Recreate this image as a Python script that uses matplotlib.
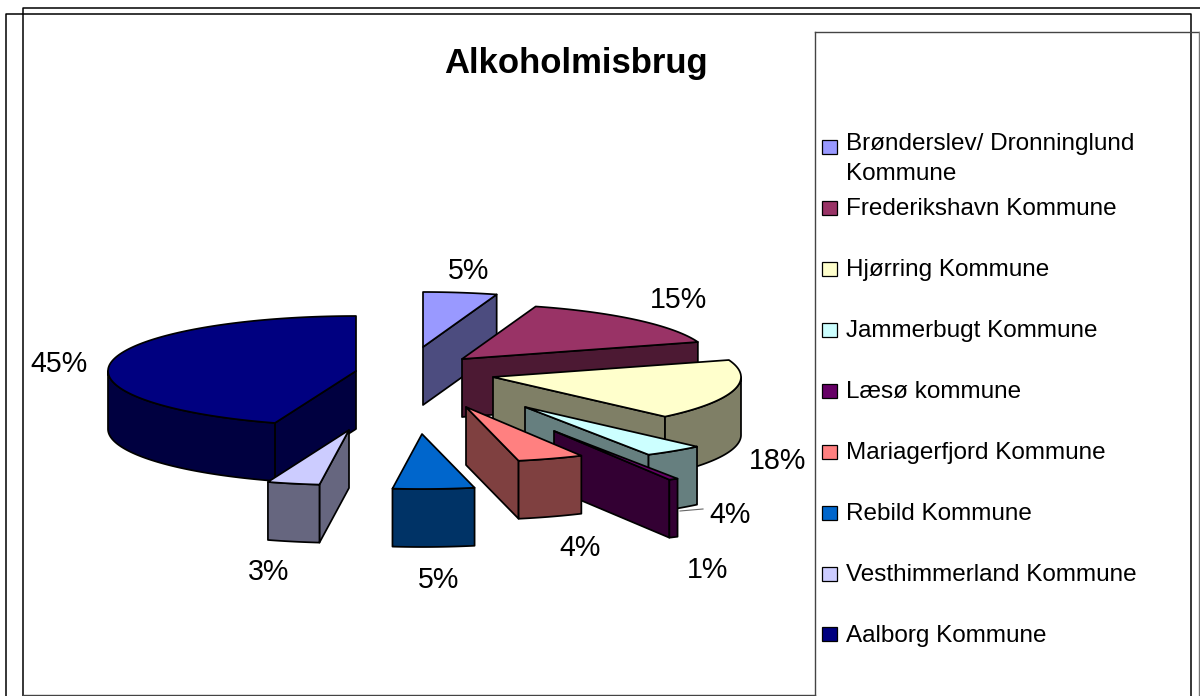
import matplotlib

matplotlib.use('Agg')
import numpy as np
import matplotlib.pyplot as plt
from matplotlib.patches import Polygon, Rectangle

plt.rcParams['font.family'] = ['Liberation Sans', 'DejaVu Sans']

title = "Alkoholmisbrug"
kommuner = ["Brønderslev/ Dronninglund\nKommune", "Frederikshavn Kommune", "Hjørring Kommune",
            "Jammerbugt Kommune", "Læsø kommune", "Mariagerfjord Kommune", "Rebild Kommune",
            "Vesthimmerland Kommune", "Aalborg Kommune"]
# shares in percent (the labels show them rounded)
shares = [4.8, 15.2, 17.8, 3.9, 0.6, 4.3, 5.3, 3.4, 44.7]
top_colors = ["#9999FF", "#993366", "#FFFFCC", "#CCFFFF", "#660066", "#FF8080", "#0066CC", "#CCCCFF", "#000080"]
side_colors = ["#4C4C7F", "#4C1933", "#7F7F66", "#667F7F", "#330033", "#7F4040", "#003366", "#66667F", "#000040"]

# layout, in pixels of the 1200x696 picture
apex_x = [423, 462, 493, 525, 554, 466, 422, 349, 356]
apex_y = [347, 359, 377, 407, 431, 407, 434, 430, 371]
label_x = [469, 678, 778, 730, 708, 580, 439, 269, 59]
label_y = [271, 300, 461, 515, 570, 548, 580, 572, 364]
swatch_y = [147, 208, 269, 330, 391, 452, 513, 574, 634]
text_y = [159, 209, 270, 331, 392, 453, 514, 575, 636]
draw_order = [0, 8, 1, 2, 3, 4, 5, 6, 7]
rx, ry, depth = 248, 55, 58


def rim_point(x0, y0, angle, drop=0):
    # angle in degrees, clockwise from 12 o'clock
    rad = np.radians(angle)
    return x0 + rx * np.sin(rad), y0 - ry * np.cos(rad) + drop


def draw_slice(ax, i, start, end):
    x0, y0 = apex_x[i], apex_y[i]
    style = dict(edgecolor="black", linewidth=1.25, joinstyle="round", facecolor=side_colors[i])

    # cut faces that look towards the viewer
    for angle, shown in ((start, 180 <= start < 360), (end, 0 < end <= 180)):
        if shown:
            rx_pt = rim_point(x0, y0, angle)
            rd_pt = rim_point(x0, y0, angle, depth)
            ax.add_patch(Polygon([(x0, y0), rx_pt, rd_pt, (x0, y0 + depth)], closed=True, **style))

    # outer wall, only the front half of the ellipse
    low, high = max(start, 90), min(end, 270)
    if low < high:
        arc = np.linspace(low, high, 80)
        upper = [rim_point(x0, y0, a) for a in arc]
        lower = [rim_point(x0, y0, a, depth) for a in arc[::-1]]
        ax.add_patch(Polygon(upper + lower, closed=True, **style))

    # top surface
    arc = np.linspace(start, end, 120)
    pts = [(x0, y0)] + [rim_point(x0, y0, a) for a in arc]
    ax.add_patch(Polygon(pts, closed=True, edgecolor="black", linewidth=1.25, joinstyle="round",
                         facecolor=top_colors[i]))


fig = plt.figure(figsize=(12, 6.96), dpi=100)
ax = fig.add_axes([0, 0, 1, 1])
ax.set_xlim(0, 1200)
ax.set_ylim(696, 0)
ax.axis("off")

# frames
ax.plot([6, 6, 1191, 1191], [696, 14, 14, 696], color="black", lw=1.1)
ax.plot([23, 23, 1200], [696, 8, 8], color="black", lw=1.1)
ax.plot([23, 815], [695, 695], color="#444444", lw=1)
ax.plot([815, 815], [696, 32], color="#444444", lw=1)
ax.plot([815, 1200], [32, 32], color="#444444", lw=1)
ax.plot([1199, 1199], [32, 696], color="#777777", lw=1)

ax.text(576, 63, title, fontsize=24.9, fontweight="bold", ha="center", va="center")

edges = np.concatenate([[0], np.cumsum(shares)]) * 3.6
for i in draw_order:
    draw_slice(ax, i, edges[i], edges[i + 1])

# leader line of the Jammerbugt label
ax.plot([680, 703], [511, 509], color="#666666", lw=0.8)

for i, share in enumerate(shares):
    ax.text(label_x[i], label_y[i], "{}%".format(round(share)), fontsize=20.6, ha="center", va="center")

for i, name in enumerate(kommuner):
    ax.add_patch(Rectangle((822, swatch_y[i] - 7), 15, 14, facecolor=top_colors[i], edgecolor="black", linewidth=0.9))
    ax.text(846, text_y[i], name, fontsize=17.45, ha="left", va="center", linespacing=1.45)

plt.savefig("out.png", format="png", dpi=100)
